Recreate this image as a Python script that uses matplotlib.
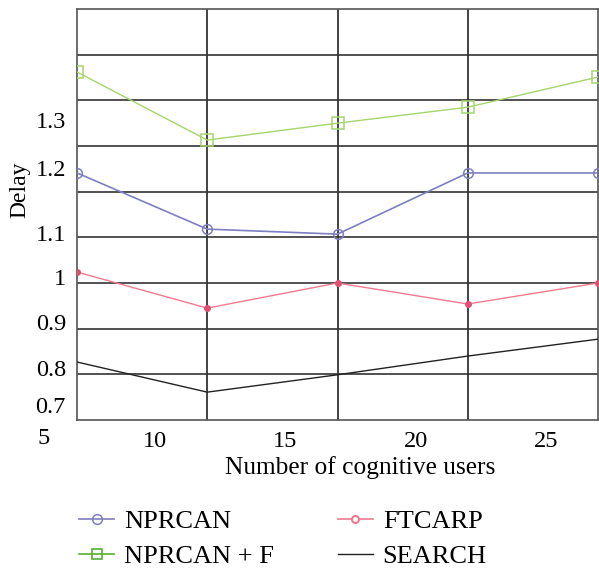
import numpy as np
import matplotlib
matplotlib.use('Agg')
import matplotlib.pyplot as plt

plt.rcParams['font.family'] = ['Liberation Serif', 'DejaVu Serif']

users = [7, 12, 17, 22, 27]
nprcan = [1.241, 1.118, 1.107, 1.241, 1.241]
nprcan_f = [1.462, 1.313, 1.350, 1.385, 1.451]
ftcarp = [1.024, 0.945, 1.000, 0.954, 1.000]
search = [0.827, 0.761, 0.799, 0.840, 0.877]

xtick_labels = ['5', '10', '15', '20', '25']
ytick_labels = ['0.7', '0.8', '0.9', '1', '1.1', '1.2', '1.3']

fig = plt.figure(figsize=(5.99, 5.72), dpi=100)
ax = fig.add_axes([77 / 599, 1 - 420 / 572, 521 / 599, 411 / 572])

ax.set_xlim(7, 27)
ax.set_ylim(0.7, 1.6)

# grid: vertical lines at data positions, horizontal every 0.1
for x in users[1:-1]:
    ax.axvline(x, color='#222222', lw=1.2, zorder=1)
for y in np.arange(0.8, 1.55, 0.1):
    ax.axhline(y, color='#333333', lw=1.2, zorder=1)
for s in ax.spines.values():
    s.set_color('#555555')
    s.set_linewidth(1.2)

l1, = ax.plot(users, nprcan, color='#7f7fc0', lw=1.2, marker='o', ms=7,
              mfc='none', mec='#7f7fc0', mew=1.1, zorder=3)
l2, = ax.plot(users, nprcan_f, color='#a6d46e', lw=1.0, marker='s', ms=8,
              mfc='none', mec='#a6d46e', mew=1.1, zorder=3)
l3, = ax.plot(users, ftcarp, color='#f07a90', lw=1.0, marker='o', ms=4,
              mfc='#e05070', mec='#e05070', zorder=3)
l4, = ax.plot(users, search, color='#222222', lw=1.0, zorder=3)

# tick labels (slightly offset like the original)
ax.set_xticks([10, 15, 20, 25])
ax.set_xticklabels(xtick_labels[1:], fontsize=17.5)
ax.text(5.7, -0.02, xtick_labels[0], transform=ax.get_xaxis_transform(),
        ha='center', va='top', fontsize=17.5, clip_on=False)
ax.set_yticks([0.733, 0.814, 0.915, 1.013, 1.109, 1.252, 1.357])
ax.set_yticklabels(ytick_labels, fontsize=17.5)
ax.tick_params(length=0, pad=8)

fig.text(20 / 599, 1 - 190 / 572, 'Delay', rotation=90, ha='center',
         va='center', fontsize=17)
fig.text(360 / 599, 1 - 468 / 572, 'Number of cognitive users', ha='center',
         va='center', fontsize=18.3)

l3h, = ax.plot([], [], color='#f07a90', lw=1.2, marker='o', ms=5,
               mfc='white', mec='#f07a90', mew=1.5)
l2h, = ax.plot([], [], color='#55b030', lw=1.2, marker='s', ms=7,
               mfc='none', mec='#55b030', mew=1.2)
fig.legend([l1, l2h, l3h, l4], ['NPRCAN', 'NPRCAN + F', 'FTCARP', 'SEARCH'],
           ncol=2, loc='center', bbox_to_anchor=(283 / 599, 1 - 539 / 572),
           frameon=False, fontsize=19, handlelength=1.33, columnspacing=2.4,
           labelspacing=0.44, handletextpad=0.38)

plt.savefig('out.png', dpi=100)
